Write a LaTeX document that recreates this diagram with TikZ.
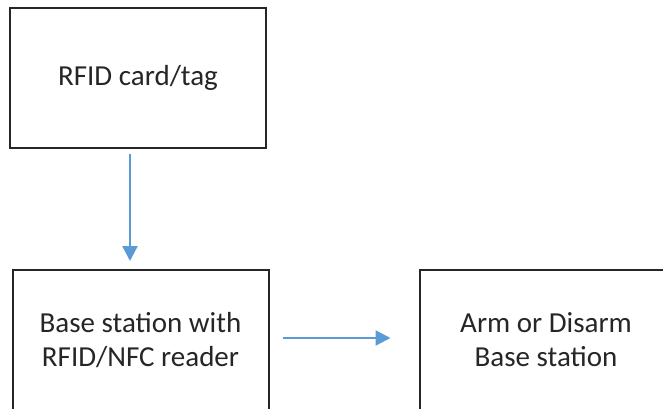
\documentclass[tikz,border=0pt]{standalone}
\usepackage{fontspec}
\setmainfont{Carlito}
\usetikzlibrary{arrows.meta, positioning}
\definecolor{FlowBlue}{HTML}{5B9BD5}
\definecolor{TextDark}{HTML}{262626}

\begin{document}
\begin{tikzpicture}[x=1pt, y=-1pt, >={Triangle[length=15pt, width=15pt]}, node distance=120pt and 149pt,
                box/.style={rectangle, draw=black!85, line width=2pt, fill=white, minimum width=256pt, minimum height=140pt, text centered, align=center, text=TextDark, font=\fontsize{29}{34}\selectfont},
                arrow/.style={->, FlowBlue, line width=2.4pt}]
                \useasboundingbox (0,0) rectangle (663,408);
                \node[box] (card) at (138,78) {RFID card/tag};
                \node[box, below=of card, xshift=2.5pt] (base) {Base station with\\RFID/NFC reader};
                \node[box, right=of base, minimum width=253pt] (arm) {Arm or Disarm\\Base station};
                
                \draw[arrow, shorten <=5pt, shorten >=8pt] ([xshift=-8pt]card.south) -- ([xshift=-10.5pt]base.north);
                \draw[arrow, shorten <=13pt, shorten >=28pt] ([yshift=2pt]base.east) -- ([yshift=2pt]arm.west);
            \end{tikzpicture}
\end{document}
